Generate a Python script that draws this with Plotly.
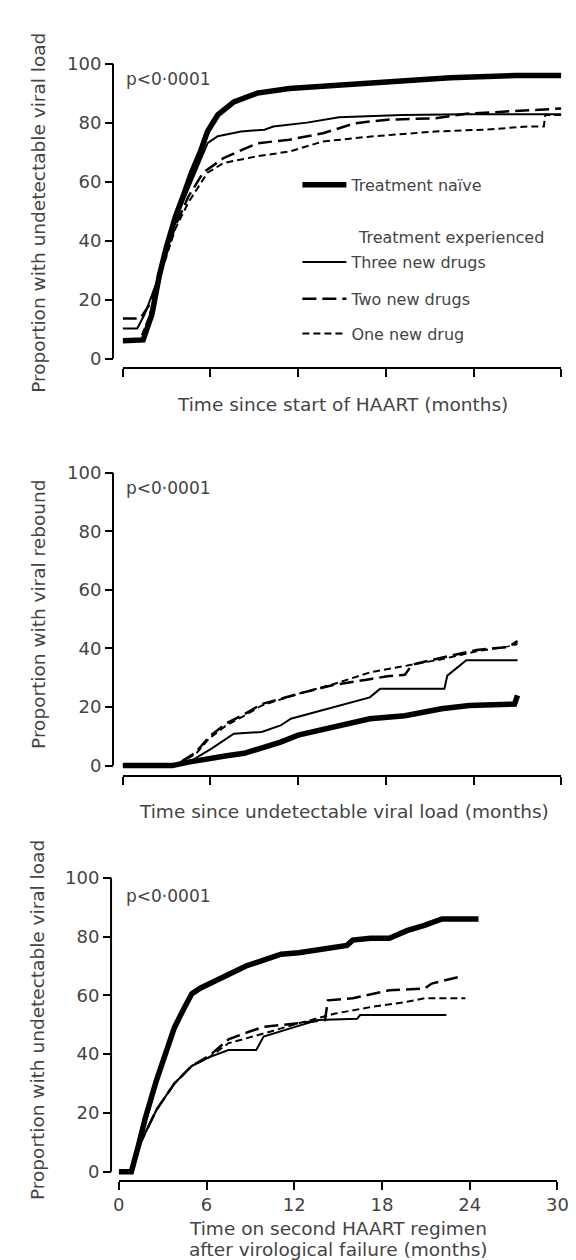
import plotly.graph_objects as go

W, H = 576, 1260

# ---------------- data (months, % of patients) ----------------
series_names = ["Treatment naïve", "Three new drugs", "Two new drugs", "One new drug"]

# Panel A: time since start of HAART, proportion with undetectable viral load
a_naive_t = [0, 1.4, 2.0, 2.5, 3.0, 3.6, 4.2, 4.7, 5.3, 5.8, 6.5, 7.6, 9.2, 11.4, 14.7, 19.1, 22.4, 26.9, 30]
a_naive_y = [6, 6.3, 15, 28, 38, 48, 56, 63, 70, 77, 82.6, 87, 90, 91.6, 92.7, 94, 95.2, 96, 96]
a_three_t = [0, 1.0, 1.5, 2.5, 3.6, 4.7, 5.8, 6.5, 8.1, 9.7, 10.3, 12.6, 14.8, 19.1, 23.5, 30]
a_three_y = [10.2, 10.2, 15, 28, 47, 60, 73, 75.4, 77, 77.6, 78.7, 80, 81.8, 82.6, 82.8, 82.8]
a_two_t = [0, 1.2, 1.8, 2.5, 3.6, 4.5, 5.5, 6.9, 9.2, 11.4, 13.7, 14.8, 15.9, 18.1, 21.4, 23.5, 25.8, 30]
a_two_y = [13.6, 13.6, 18, 28, 45, 55, 63, 68, 73, 74.2, 76.4, 78, 79.8, 81, 81.5, 83, 83.7, 84.8]
a_one_t = [0, 1.2, 1.8, 2.5, 3.6, 4.5, 5.8, 6.9, 9.2, 11.4, 13.7, 17, 21.4, 24.7, 27.8, 28.8, 28.9, 30]
a_one_y = [6.5, 6.5, 14, 27, 44, 53, 63, 66.3, 68.6, 70.2, 73.6, 75.3, 77, 77.6, 78.7, 78.7, 82.6, 82.6]

# Panel B: time since undetectable viral load, proportion with viral rebound
b_naive_t = [0, 3.4, 4.5, 5.9, 7.0, 8.3, 9.5, 10.8, 12.0, 14.4, 16.9, 19.3, 20.5, 21.8, 23.7, 26.8, 27.0]
b_naive_y = [0, 0, 1.2, 2.5, 3.3, 4.2, 6.0, 8.0, 10.4, 13.2, 16.0, 17.0, 18.3, 19.4, 20.5, 21.0, 24.0]
b_three_t = [0, 3.4, 4.8, 6.1, 7.6, 9.5, 10.8, 11.5, 13.2, 15.6, 16.9, 17.6, 22.0, 22.2, 23.0, 23.5, 27.0]
b_three_y = [0, 0, 2, 5.9, 10.9, 11.5, 13.7, 16, 18.3, 21.6, 23.3, 26.2, 26.2, 30.7, 34, 36, 36]
b_two_t = [0, 3.4, 3.9, 5.0, 5.9, 7.1, 8.3, 9.5, 12.0, 14.4, 16.9, 18.1, 19.3, 19.8, 21.8, 24.2, 26.4, 27.0]
b_two_y = [0, 0, 1, 4.5, 9.8, 14.5, 17.5, 21, 24.5, 27.5, 29.5, 30.5, 31, 34.5, 36.8, 39.5, 40.5, 42.5]
b_one_t = [0, 3.4, 3.9, 5.0, 5.9, 7.1, 8.3, 9.5, 12.0, 14.4, 16.9, 18.1, 19.3, 21.8, 24.2, 26.4, 27.0]
b_one_y = [0, 0, 1, 4, 9.2, 13.8, 17, 20.5, 24.5, 27.8, 31.8, 33, 34, 36.3, 39, 40.8, 41.5]

# Panel C: time on second HAART regimen, proportion with undetectable viral load
c_naive_t = [0, 0.86, 1.34, 1.8, 2.57, 3.2, 3.8, 4.4, 5.0, 5.6, 6.2, 7.5, 8.7, 9.9, 11.1, 12.3, 13.6, 14.8,
             15.6, 16.0, 17.2, 18.5, 19.0, 19.7, 20.9, 22.1, 24.6]
c_naive_y = [0, 0, 8.8, 18, 31, 41, 49, 55, 60.6, 62.5, 64, 67, 70, 72, 74, 74.5, 75.5, 76.6,
             77, 78.8, 79.4, 79.4, 80.5, 82, 83.8, 86, 86]
c_three_t = [0, 0.9, 1.5, 2.57, 3.8, 5.0, 6.2, 7.5, 9.4, 9.9, 11.9, 13.6, 16.3, 16.5, 22.4]
c_three_y = [0, 0, 10, 21, 30, 36, 39, 41.4, 41.4, 46, 49, 51.6, 52, 53.3, 53.3]
c_two_t = [0, 0.9, 1.5, 2.57, 3.8, 5.0, 6.2, 7.5, 8.9, 9.9, 12.3, 14.1, 14.3, 16.0, 18.5, 20.9, 21.4, 23.2]
c_two_y = [0, 0, 10, 21, 30, 36, 39.5, 45, 47.6, 49.3, 50.5, 51.6, 58.3, 59, 61.7, 62.3, 64, 66.2]
c_one_t = [0, 0.9, 1.5, 2.57, 3.8, 5.0, 6.2, 7.5, 9.9, 12.3, 14.8, 17.2, 19.7, 20.9, 23.7]
c_one_y = [0, 0, 10, 21, 30, 36, 39, 43.7, 47, 50.5, 53.8, 56, 57.8, 59, 59]

x_ticks = [0, 6, 12, 18, 24, 30]
y_ticks = [0, 20, 40, 60, 80, 100]
p_text = "p<0·0001"
y_titles = ["Proportion with undetectable viral load", "Proportion with viral rebound",
            "Proportion with undetectable viral load"]
x_titles = [["Time since start of HAART (months)"], ["Time since undetectable viral load (months)"],
            ["Time on second HAART regimen", "after virological failure (months)"]]

panels_data = [
    [(a_naive_t, a_naive_y), (a_three_t, a_three_y), (a_two_t, a_two_y), (a_one_t, a_one_y)],
    [(b_naive_t, b_naive_y), (b_three_t, b_three_y), (b_two_t, b_two_y), (b_one_t, b_one_y)],
    [(c_naive_t, c_naive_y), (c_three_t, c_three_y), (c_two_t, c_two_y), (c_one_t, c_one_y)],
]

# ---------------- layout geometry (pixels) ----------------
geom = [
    dict(y100=50, y0=347, xline=357, yline=102, x0=112, x1=564, ytc=200, xtc=338, xty=[393], py=65),
    dict(y100=462, y0=757, xline=767, yline=102, x0=112, x1=564, ytc=605, xtc=340, xty=[803], py=477),
    dict(y100=870, y0=1166, xline=1175, yline=100, x0=108, x1=560, ytc=1013, xtc=334, xty=[1223, 1244], py=888),
]
styles = [
    dict(width=5.5, dash="solid"),
    dict(width=2, dash="solid"),
    dict(width=2.5, dash="14px,6px"),
    dict(width=2, dash="7px,4px"),
]
legend_ids = ["legend", "legend2", "legend3", "legend4"]
legend_y = [172, 250, 287, 322]

FONT = "DejaVu Sans"
TXT = "#444444"
TICK_SIZE = 18
TITLE_SIZE = 18.5
P_SIZE = 17
LEG_SIZE = 16


def px(x):
    return x / W


def py(y):
    return 1 - y / H


fig = go.Figure()
YMIN, YMAX = -2.5, 101.5

for i, (g, pdata) in enumerate(zip(geom, panels_data)):
    sfx = "" if i == 0 else str(i + 1)
    for k, ((t, v), st) in enumerate(zip(pdata, styles)):
        fig.add_trace(go.Scatter(
            x=t, y=v, mode="lines", name=series_names[k],
            line=dict(color="black", width=st["width"], dash=st["dash"]),
            xaxis="x" + sfx, yaxis="y" + sfx,
            showlegend=(i == 0), legend=legend_ids[k],
            hoverinfo="skip",
        ))
    s = (g["y0"] - g["y100"]) / 100.0
    bot = g["y0"] - YMIN * s
    top = g["y100"] - (YMAX - 100) * s
    fig.layout["xaxis" + sfx] = dict(
        domain=[px(g["x0"]), px(g["x1"])], range=[0, 30], anchor="free", position=py(g["xline"]),
        showline=True, linecolor="black", linewidth=2, ticks="outside", ticklen=8, tickwidth=2,
        tickcolor="black", tickvals=x_ticks, showticklabels=(i == 2), showgrid=False, zeroline=False,
        tickfont=dict(family=FONT, size=TICK_SIZE, color=TXT),
    )
    fig.layout["yaxis" + sfx] = dict(
        domain=[py(bot), py(top)], range=[YMIN, YMAX], anchor="free", position=px(g["yline"]),
        showline=False, ticks="outside", ticklen=8, tickwidth=2, tickcolor="black",
        tickvals=y_ticks, showgrid=False, zeroline=False,
        tickfont=dict(family=FONT, size=TICK_SIZE, color=TXT),
    )
    fig.add_shape(type="line", xref="paper", yref="y" + sfx, x0=px(g["yline"]), x1=px(g["yline"]),
                  y0=0, y1=100, line=dict(color="black", width=2))
    fig.add_annotation(x=px(25), y=py(g["ytc"]), xref="paper", yref="paper", text=y_titles[i],
                       textangle=-90, showarrow=False, xanchor="center", yanchor="middle",
                       font=dict(family=FONT, size=TITLE_SIZE, color=TXT))
    for line_txt, yy in zip(x_titles[i], g["xty"]):
        fig.add_annotation(x=px(g["xtc"]), y=py(yy), xref="paper", yref="paper", text=line_txt,
                           showarrow=False, xanchor="center", yanchor="middle",
                           font=dict(family=FONT, size=TITLE_SIZE, color=TXT))
    fig.add_annotation(x=px(113), y=py(g["py"]), xref="paper", yref="paper", text=p_text,
                       showarrow=False, xanchor="left", yanchor="middle",
                       font=dict(family=FONT, size=P_SIZE, color=TXT))

fig.add_annotation(x=px(352), y=py(225), xref="paper", yref="paper", text="Treatment experienced",
                   showarrow=False, xanchor="left", yanchor="middle",
                   font=dict(family=FONT, size=LEG_SIZE, color=TXT))

for lid, ly in zip(legend_ids, legend_y):
    fig.layout[lid] = dict(x=px(292), y=py(ly), xanchor="left", yanchor="middle",
                           bgcolor="rgba(0,0,0,0)", borderwidth=0, itemwidth=44,
                           font=dict(family=FONT, size=LEG_SIZE, color=TXT))

fig.update_layout(width=W, height=H, margin=dict(l=0, r=0, t=0, b=0), autosize=False,
                  plot_bgcolor="white", paper_bgcolor="white", showlegend=True)

fig.write_html("out.html")
